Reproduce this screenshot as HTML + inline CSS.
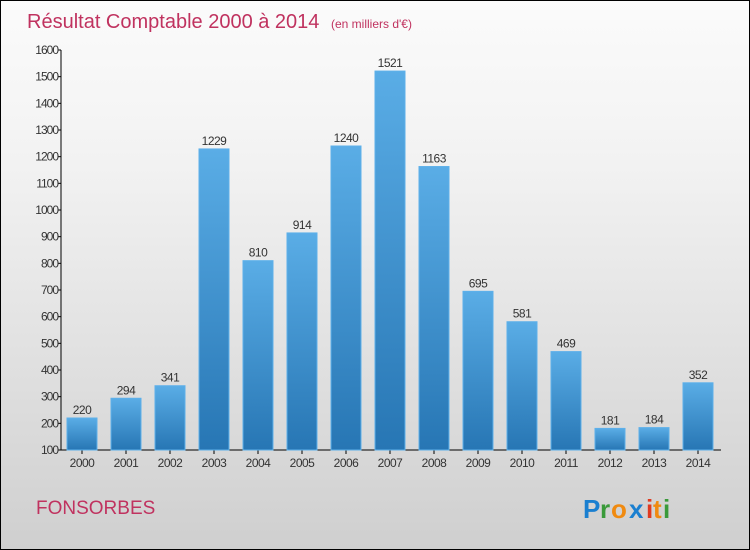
<!DOCTYPE html>
<html><head><meta charset="utf-8"><style>
body{margin:0;}
#c{position:relative;width:748px;height:548px;border:1px solid #000;background:linear-gradient(#fbfbfb,#f2f2f2 30%,#cfcfcf);font-family:"Liberation Sans",sans-serif;overflow:hidden}
</style></head><body>
<div id="c">
<svg id="s" width="748" height="548" style="position:absolute;left:0;top:0">
<defs><linearGradient id="g" x1="0" y1="0" x2="0" y2="1"><stop offset="0" stop-color="#5aade6"/><stop offset="1" stop-color="#2776b4"/></linearGradient></defs>
<text x="26" y="27" font-size="20" fill="#c0325f">Résultat Comptable 2000 à 2014 <tspan font-size="12" dx="6">(en milliers d'€)</tspan></text>
<text x="35" y="513" font-size="19" fill="#c0325f">FONSORBES</text>
<g font-size="26" font-weight="bold">
<text x="582" y="517" fill="#1a7fd0">P</text><text x="599" y="517" fill="#3a9a3a">r</text><text x="610" y="517" fill="#f08a10">o</text><text x="628" y="517" fill="#1a7fd0">x</text><text x="645" y="517" fill="#e03a20">i</text><text x="652" y="517" fill="#f08a10">t</text><text x="662" y="517" fill="#3a9a3a">i</text>
</g>
<g id="plot"></g>
</svg>
</div>
<script>
const categories=["2000","2001","2002","2003","2004","2005","2006","2007","2008","2009","2010","2011","2012","2013","2014"];
const values=[220,294,341,1229,810,914,1240,1521,1163,695,581,469,181,184,352];
const yTicks=[100,200,300,400,500,600,700,800,900,1000,1100,1200,1300,1400,1500,1600];
const NS="http://www.w3.org/2000/svg";
const p=document.getElementById('plot');
const y=v=>449-(v-100)*400/1500;
const x=i=>81+i*44;
function el(t,a,txt){const e=document.createElementNS(NS,t);for(const k in a)e.setAttribute(k,a[k]);if(txt!=null)e.textContent=txt;p.appendChild(e);return e;}
let ax=el('line',{x1:60,y1:49,x2:60,y2:449,stroke:'#000'});


let ax2=el('line',{x1:60,y1:449,x2:720,y2:449,stroke:'#000'});


yTicks.forEach(v=>{
 el('line',{x1:57,x2:60,y1:y(v),y2:y(v),stroke:'#000'});
 let t=el('text',{x:57,y:y(v)+4,'font-size':12,'text-anchor':'end',fill:'#333','letter-spacing':'-1'},v);
 
 
});
categories.forEach((c,i)=>{
 el('line',{x1:x(i),x2:x(i),y1:449,y2:453,stroke:'#000'});
 let t=el('text',{x:x(i),y:466,'font-size':12,'text-anchor':'middle',fill:'#333','letter-spacing':'-0.5'},c);
 
 
 let b=el('rect',{x:x(i)-15,y:y(values[i]),width:30,height:449-y(values[i]),fill:'url(#g)',stroke:'#5db0ea','stroke-width':1});
 
 
 let l=el('text',{x:x(i),y:y(values[i])-4,'font-size':12,'text-anchor':'middle',fill:'#333','letter-spacing':'-0.5'},values[i]);
 
 
});
</script>
</body></html>
